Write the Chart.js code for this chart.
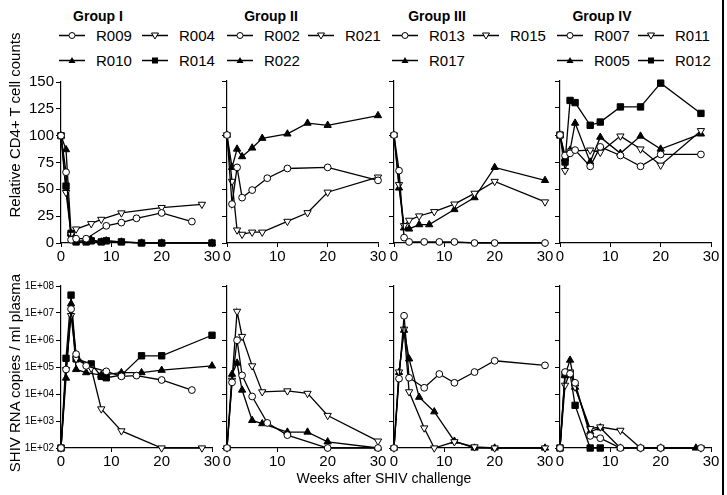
<!DOCTYPE html>
<html lang="en">
<head>
<meta charset="UTF-8">
<title>CD4 counts and SHIV RNA after challenge</title>
<script src="https://cdn.jsdelivr.net/npm/chart.js"></script>
<style>
  body { margin: 0; background: #fff; color: #000; font-family: 'Liberation Sans', Arial, sans-serif; }
  #fig { position: relative; width: 727px; height: 495px; overflow: hidden; background: #fff; }
  .panel { position: absolute; }
  .group-title { position: absolute; font-weight: bold; font-size: 14px; transform: translate(-50%, -50%); white-space: nowrap; }
  .legend-item { position: absolute; font-size: 15px; display: flex; align-items: center; white-space: nowrap; transform: translateY(-50%); }
  .legend-item svg { margin-right: 11px; }
  .ytitle { position: absolute; font-size: 15px; white-space: nowrap; transform: translate(-50%, -50%) rotate(-90deg); }
  .xtitle { position: absolute; font-size: 14px; white-space: nowrap; transform: translate(-50%, -50%); }
  .edge { position: absolute; left: 722px; top: 0; width: 2px; height: 495px; background: #000; }
</style>
</head>
<body>
<div id="fig"></div>

<script>
// ---- data ----
// relative CD4+ T cell counts (% of week 0)
const cd4Weeks_R009 = [0, 1, 2, 3, 5, 9, 12, 15, 20, 26];
const cd4_R009 = [100, 66, 3, 4, 4, 16, 19, 23, 28, 20];
const cd4Weeks_R004 = [0, 1, 2, 3, 6, 8, 12, 20, 28];
const cd4_R004 = [100, 47, 8, 13, 18, 22, 28, 33, 36];
const cd4Weeks_R010 = [0, 1, 2, 3, 5, 6, 8, 9, 12, 16, 20, 30];
const cd4_R010 = [100, 87, 9, 2, 2, 3, 1, 2, 1, 0, 0, 0];
const cd4Weeks_R014 = [0, 1, 2, 3, 5, 6, 8, 9, 12, 16, 20, 30];
const cd4_R014 = [100, 53, 9, 1, 1, 2, 1, 2, 1, 0, 0, 0];

const cd4Weeks_R002 = [0, 1, 2, 3, 5, 8, 12, 20, 30];
const cd4_R002 = [100, 36, 70, 42, 49, 60, 69, 70, 58];
const cd4Weeks_R021 = [0, 1, 2, 3, 5, 7, 12, 16, 20, 30];
const cd4_R021 = [100, 57, 12, 8, 10, 10, 20, 28, 47, 61];
const cd4Weeks_R022 = [0, 1, 2, 3, 5, 7, 12, 16, 20, 30];
const cd4_R022 = [100, 70, 87, 80, 88, 97, 101, 111, 109, 118];

const cd4Weeks_R013 = [0, 1, 2, 3, 6, 9, 12, 16, 20, 30];
const cd4_R013 = [100, 67, 5, 1, 1, 1, 1, 0, 0, 0];
const cd4Weeks_R015 = [0, 1, 2, 3, 5, 8, 12, 16, 20, 30];
const cd4_R015 = [100, 54, 16, 21, 25, 29, 36, 46, 57, 38];
const cd4Weeks_R017 = [0, 1, 2, 3, 5, 7, 12, 16, 20, 30];
const cd4_R017 = [100, 51, 14, 13, 17, 17, 31, 42, 70, 58];

const cd4Weeks_R007 = [0, 1, 2, 3, 6, 8, 12, 16, 20, 28];
const cd4_R007 = [100, 81, 83, 86, 71, 89, 81, 71, 82, 82];
const cd4Weeks_R011 = [0, 1, 2, 6, 8, 12, 16, 20, 28];
const cd4_R011 = [100, 67, 85, 86, 84, 99, 87, 72, 104];
const cd4Weeks_R005 = [0, 1, 2, 3, 6, 8, 12, 16, 20, 28];
const cd4_R005 = [100, 78, 86, 111, 75, 98, 83, 99, 87, 101];
const cd4Weeks_R012 = [0, 1, 2, 3, 6, 8, 12, 16, 20, 28];
const cd4_R012 = [100, 75, 132, 130, 109, 112, 126, 126, 148, 120];

// SHIV RNA copies / ml plasma
const rnaWeeks_R009 = [0, 1, 2, 3, 5, 9, 12, 15, 20, 26];
const rna_R009 = [100, 8.1e4, 1.4e7, 3.0e5, 1.1e5, 6.9e4, 4.5e4, 4.8e4, 3.3e4, 1.4e4];
const rnaWeeks_R004 = [0, 1, 2, 3, 6, 8, 12, 20, 28];
const rna_R004 = [100, 8e4, 8e6, 2e5, 9e4, 2.8e3, 430, 100, 100];
const rnaWeeks_R010 = [0, 1, 2, 3, 5, 8, 12, 16, 20, 30];
const rna_R010 = [100, 3.9e4, 2.2e7, 8.1e4, 6.2e4, 5.0e4, 6.2e4, 6.2e4, 7.6e4, 1.1e5];
const rnaWeeks_R014 = [0, 1, 2, 3, 6, 8, 9, 12, 16, 20, 30];
const rna_R014 = [100, 2.1e5, 4.6e7, 2.0e5, 1.3e5, 4.5e4, 4.0e4, 5.0e4, 2.6e5, 2.6e5, 1.5e6];

const rnaWeeks_R002 = [0, 1, 2, 3, 5, 8, 12, 20, 30];
const rna_R002 = [100, 2.7e4, 9.8e5, 4.9e4, 8.1e3, 850, 300, 100, 100];
const rnaWeeks_R021 = [0, 1, 2, 3, 5, 7, 12, 16, 20, 30];
const rna_R021 = [100, 3.2e4, 1.15e7, 1.35e6, 1.1e5, 1.2e4, 1.3e4, 1.05e4, 1.6e3, 180];
const rnaWeeks_R022 = [0, 1, 2, 3, 5, 7, 12, 16, 20, 30];
const rna_R022 = [100, 5.4e4, 1.4e5, 1.4e4, 1.05e3, 800, 390, 390, 170, 100];

const rnaWeeks_R013 = [0, 1, 2, 3, 6, 9, 12, 16, 20, 30];
const rna_R013 = [100, 3.7e4, 7.9e6, 4.0e4, 1.7e4, 5.5e4, 2.6e4, 6.5e4, 1.7e5, 1.15e5];
const rnaWeeks_R015 = [0, 1, 2, 3, 6, 8, 12, 16, 20, 30];
const rna_R015 = [100, 6.5e4, 2.5e6, 1.2e4, 550, 100, 170, 110, 100, 100];
const rnaWeeks_R017 = [0, 1, 2, 3, 5, 8, 12, 16, 20, 30];
const rna_R017 = [100, 6.3e4, 2.3e6, 2.0e5, 7.6e3, 2.2e3, 180, 100, 100, 100];

const rnaWeeks_R007 = [0, 1, 2, 3, 6, 8, 12, 16, 20, 28];
const rna_R007 = [100, 6.5e4, 5.6e4, 2.6e4, 280, 230, 100, 100, 100, 100];
const rnaWeeks_R011 = [0, 1, 2, 3, 6, 8, 12, 16, 20, 28];
const rna_R011 = [100, 2.1e4, 6.5e4, 1.8e4, 520, 600, 450, 100, 100, 100];
const rnaWeeks_R005 = [0, 1, 2, 3, 6, 8, 12, 16, 20, 27];
const rna_R005 = [100, 5e4, 1.8e5, 1.8e4, 400, 560, 100, 100, 100, 100];
const rnaWeeks_R012 = [0, 1, 2, 3, 6, 8];
const rna_R012 = [100, 5.2e4, 5.6e4, 3.8e3, 100, 100];

// axis ticks
const weekTicks = [0, 10, 20, 30];
const cd4Ticks = [0, 25, 50, 75, 100, 125, 150];
const rnaTicks = [1e2, 1e3, 1e4, 1e5, 1e6, 1e7, 1e8];
const rnaTickLabels = ['1E+02', '1E+03', '1E+04', '1E+05', '1E+06', '1E+07', '1E+08'];

// groups, animals in legend order, and marker of each animal
const groupTitles = ['Group I', 'Group II', 'Group III', 'Group IV'];
const groupAnimals = [
  ['R009', 'R004', 'R010', 'R014'],
  ['R002', 'R021', 'R022'],
  ['R013', 'R015', 'R017'],
  ['R007', 'R011', 'R005', 'R012']
];
const markerOrder = ['circle', 'down', 'up', 'square'];

const animals = {
  R009: { cd4: [cd4Weeks_R009, cd4_R009], rna: [rnaWeeks_R009, rna_R009] },
  R004: { cd4: [cd4Weeks_R004, cd4_R004], rna: [rnaWeeks_R004, rna_R004] },
  R010: { cd4: [cd4Weeks_R010, cd4_R010], rna: [rnaWeeks_R010, rna_R010] },
  R014: { cd4: [cd4Weeks_R014, cd4_R014], rna: [rnaWeeks_R014, rna_R014] },
  R002: { cd4: [cd4Weeks_R002, cd4_R002], rna: [rnaWeeks_R002, rna_R002] },
  R021: { cd4: [cd4Weeks_R021, cd4_R021], rna: [rnaWeeks_R021, rna_R021] },
  R022: { cd4: [cd4Weeks_R022, cd4_R022], rna: [rnaWeeks_R022, rna_R022] },
  R013: { cd4: [cd4Weeks_R013, cd4_R013], rna: [rnaWeeks_R013, rna_R013] },
  R015: { cd4: [cd4Weeks_R015, cd4_R015], rna: [rnaWeeks_R015, rna_R015] },
  R017: { cd4: [cd4Weeks_R017, cd4_R017], rna: [rnaWeeks_R017, rna_R017] },
  R007: { cd4: [cd4Weeks_R007, cd4_R007], rna: [rnaWeeks_R007, rna_R007] },
  R011: { cd4: [cd4Weeks_R011, cd4_R011], rna: [rnaWeeks_R011, rna_R011] },
  R005: { cd4: [cd4Weeks_R005, cd4_R005], rna: [rnaWeeks_R005, rna_R005] },
  R012: { cd4: [cd4Weeks_R012, cd4_R012], rna: [rnaWeeks_R012, rna_R012] }
};

// ---- layout ----
const plotLefts = [61, 227, 394, 560];
const plotW = 151, plotH = 162;
const rowTops = { cd4: 81, rna: 286 };
const padL = 48, padR = 14, padT = 10, padB = 26;
const legendCol1 = [59, 227, 392, 557];
const legendCol2 = [142, 308, 473, 638];
const legendRows = [35, 60];
const titleCenters = [98, 271, 437, 602];

const markerStyles = {
  circle: { style: 'circle', rotation: 0, radius: 3.4, fill: '#fff' },
  down:   { style: 'triangle', rotation: 180, radius: 4.2, fill: '#fff' },
  up:     { style: 'triangle', rotation: 0, radius: 4.2, fill: '#000' },
  square: { style: 'rect', rotation: 0, radius: 4.5, fill: '#000' }
};

Chart.defaults.font.family = "'Liberation Sans', Arial, sans-serif";
Chart.defaults.color = '#000';

const fig = document.getElementById('fig');

function addDiv(cls, text, x, y) {
  const d = document.createElement('div');
  d.className = cls;
  d.textContent = text;
  d.style.left = x + 'px';
  d.style.top = y + 'px';
  fig.appendChild(d);
  return d;
}

function legendSymbol(kind) {
  let m = '';
  if (kind === 'circle') m = '<circle cx="13" cy="6" r="3" fill="#fff" stroke="#000" stroke-width="1"/>';
  if (kind === 'down') m = '<polygon points="9.5,3.5 16.5,3.5 13,9.5" fill="#fff" stroke="#000" stroke-width="1"/>';
  if (kind === 'up') m = '<polygon points="13,2.5 9.5,8.5 16.5,8.5" fill="#000"/>';
  if (kind === 'square') m = '<rect x="10" y="3" width="6" height="6" fill="#000"/>';
  return '<svg width="26" height="12" viewBox="0 0 26 12"><line x1="0" y1="6" x2="26" y2="6" stroke="#000" stroke-width="1.3"/>' + m + '</svg>';
}

function makeDataset(pair, kind) {
  const s = markerStyles[kind];
  const [weeks, values] = pair;
  return {
    data: weeks.map((w, i) => ({ x: w, y: values[i] })),
    borderColor: '#000',
    borderWidth: 1.3,
    pointStyle: s.style,
    pointRotation: s.rotation,
    pointRadius: s.radius,
    pointBackgroundColor: s.fill,
    pointBorderColor: '#000',
    pointBorderWidth: 1,
    tension: 0,
    clip: false
  };
}

function makePanel(g, row) {
  const canvas = document.createElement('canvas');
  canvas.className = 'panel';
  canvas.width = plotW + padL + padR;
  canvas.height = plotH + padT + padB;
  canvas.style.left = (plotLefts[g] - padL) + 'px';
  canvas.style.top = (rowTops[row] - padT) + 'px';
  fig.appendChild(canvas);

  const datasets = groupAnimals[g].map((id, i) => makeDataset(animals[id][row], markerOrder[i]));
  const showYLabels = g === 0;
  const yScale = row === 'cd4'
    ? {
        type: 'linear', min: 0, max: 150,
        afterBuildTicks: s => { s.ticks = cd4Ticks.map(v => ({ value: v })); },
        ticks: { display: showYLabels, font: { size: 15 }, padding: 2, autoSkip: false }
      }
    : {
        type: 'logarithmic', min: 1e2, max: 1e8,
        afterBuildTicks: s => { s.ticks = rnaTicks.map(v => ({ value: v })); },
        ticks: { display: showYLabels, font: { size: 10 }, padding: 2, autoSkip: false,
                 callback: (v, i) => rnaTickLabels[i] }
      };
  Object.assign(yScale, {
    grid: { drawOnChartArea: false, drawTicks: true, tickLength: 5, color: '#000' },
    border: { color: '#000', width: 1.2 },
    afterFit: s => { s.width = padL; }
  });

  new Chart(canvas, {
    type: 'line',
    data: { datasets },
    options: {
      responsive: false,
      animation: false,
      events: [],
      layout: { padding: { left: 0, right: padR, top: padT, bottom: 0 } },
      plugins: { legend: { display: false }, tooltip: { enabled: false } },
      scales: {
        x: {
          type: 'linear', min: 0, max: 30,
          afterBuildTicks: s => { s.ticks = weekTicks.map(v => ({ value: v })); },
          ticks: { font: { size: 15 }, padding: 1, maxRotation: 0, autoSkip: false },
          grid: { drawOnChartArea: false, drawTicks: true, tickLength: 4, color: '#000' },
          border: { color: '#000', width: 1.2 },
          afterFit: s => { s.height = padB; }
        },
        y: yScale
      }
    }
  });
}

// titles and legends
groupTitles.forEach((t, g) => {
  addDiv('group-title', t, titleCenters[g], 16);
  groupAnimals[g].forEach((id, i) => {
    const x = i % 2 === 0 ? legendCol1[g] : legendCol2[g];
    const y = legendRows[Math.floor(i / 2)];
    const item = document.createElement('div');
    item.className = 'legend-item';
    item.style.left = x + 'px';
    item.style.top = y + 'px';
    item.innerHTML = legendSymbol(markerOrder[i]) + '<span>' + id + '</span>';
    fig.appendChild(item);
  });
});

for (let g = 0; g < 4; g++) {
  makePanel(g, 'cd4');
  makePanel(g, 'rna');
}

addDiv('ytitle', 'Relative CD4+ T cell counts', 14, 125);
addDiv('ytitle', 'SHIV RNA copies / ml plasma', 14, 373);
addDiv('xtitle', 'Weeks after SHIV challenge', 384, 478);
addDiv('edge', '', 722, 0);
</script>
</body>
</html>
